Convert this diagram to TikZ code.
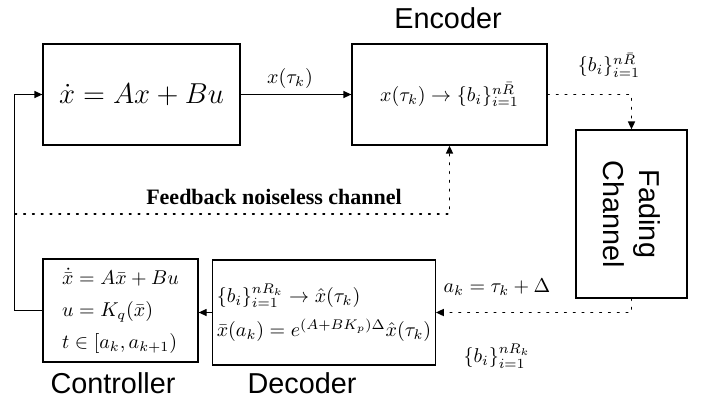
\documentclass[tikz,border=0pt]{standalone}
\usepackage{amsmath}
\usepackage{fontspec}
\setmainfont{Liberation Serif}
\setsansfont{Liberation Sans}
\usetikzlibrary{arrows.meta,positioning}
\tikzset{block/.style={draw,line width=.6pt,align=center,inner sep=2pt},
  caption/.style={font=\sffamily\Large},
  flow/.style={-{Triangle[length=4pt,width=3.5pt]},line width=.6pt},
  dotflow/.style={-{Triangle[length=4pt,width=3.5pt]},dash pattern=on .8pt off 3.6pt,line width=.8pt,line cap=round}}

\begin{document}
\begin{tikzpicture}[x=.5pt,y=-.5pt]
  \useasboundingbox (0,0) rectangle (707,403);
  % blocks
  \node[block,minimum width=98.5pt,minimum height=50.5pt](plant) at (141.5,94.5){\fontsize{15.5}{18}\selectfont$\dot{x}=Ax+Bu$};
  \node[block,minimum width=97.5pt,minimum height=50.5pt](enc) at (449.5,94.5){$x(\tau_k)\to\{b_i\}_{i=1}^{n\bar{R}}$};
  \node[block,minimum width=55.5pt,minimum height=84pt](chan) at (631.5,214){};
  \node[caption,rotate=-90,align=center](chantxt) at (chan.center){Fading\\Channel};
  \node[block,minimum width=98pt,minimum height=52.5pt,align=left](dec) at (324,312.5){$\{b_i\}_{i=1}^{nR_k}\to\hat{x}(\tau_k)$\\[5pt]$\bar{x}(a_k)=e^{(A+BK_p)\Delta}\hat{x}(\tau_k)$};
  \node[block,minimum width=77.5pt,minimum height=51.5pt,align=left](ctrl) at (120.5,310.5){$\dot{\bar{x}}=A\bar{x}+Bu$\\[4pt]$u=K_q(\bar{x})$\\[4pt]$t\in[a_k,a_{k+1})$};
  % captions
  \node[caption](enclbl) at (448,18){Encoder};
  \node[caption](ctrllbl) at (113,383){Controller};
  \node[caption](declbl) at (302,383){Decoder};
  % signal labels
  \node(xlbl) at (290,78){$x(\tau_k)$};
  \node(blbl) at (609,65){$\{b_i\}_{i=1}^{n\bar{R}}$};
  \node(albl) at (497,287){$a_k=\tau_k+\Delta$};
  \node(bklbl) at (497,356){$\{b_i\}_{i=1}^{nR_k}$};
  \node[font=\fontsize{11}{13}\selectfont\bfseries](fblbl) at (274,197){Feedback noiseless channel};
  % connectors
  \coordinate(fb) at (15,214);
  \draw[flow](plant)--(enc);
  \draw[dotflow](enc.east)-|(chan.north);
  \draw[dotflow](chan.south)|-(dec.east);
  \draw[flow](dec.west)--(dec.west-|ctrl.east);
  \draw[flow](ctrl.west)--++(-28,0)|-(plant.west);
  \draw[dotflow](fb)-|(enc.south);
\end{tikzpicture}
\end{document}
